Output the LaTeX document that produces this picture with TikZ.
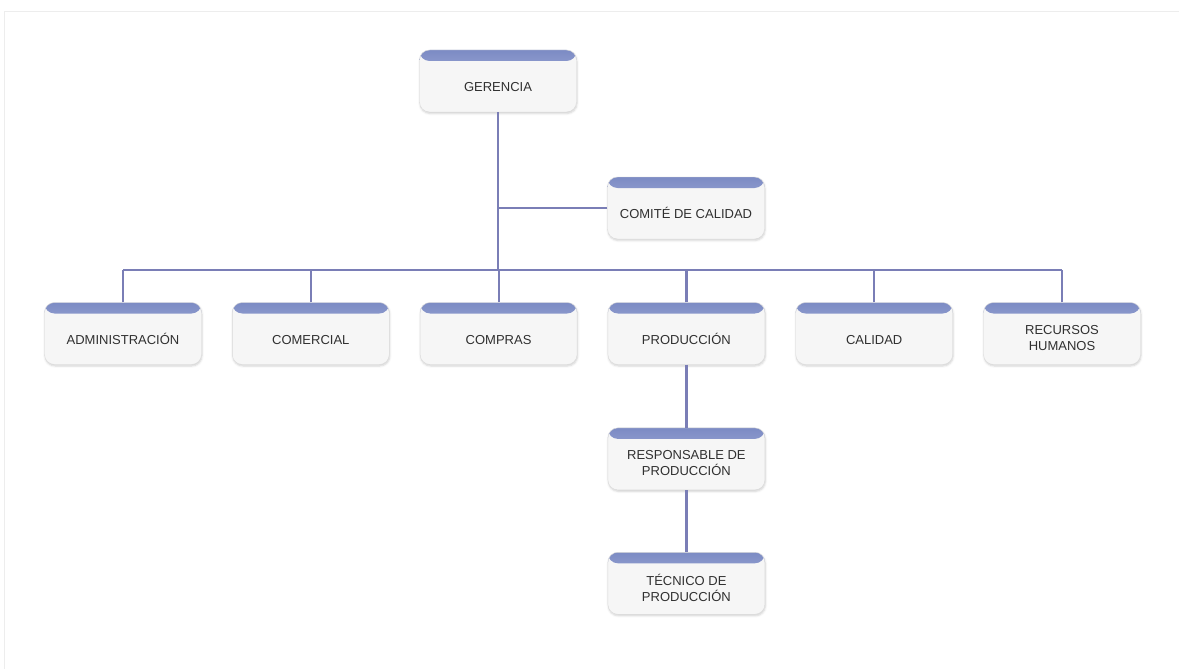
\documentclass[tikz,border=0pt]{standalone}
\usepackage{fontspec}
\setmainfont{Liberation Sans}
\usepackage{xcolor}
\usetikzlibrary{positioning,shadows.blur}

\definecolor{linkcol}{HTML}{7A7EB6}
\definecolor{bandtop}{HTML}{7C8BC4}
\definecolor{bandbot}{HTML}{C3CBEA}
\definecolor{boxfill}{HTML}{F6F6F6}
\definecolor{boxline}{HTML}{DADADA}
\definecolor{txtcol}{HTML}{303030}

\begin{document}
\begin{tikzpicture}[
    x=1pt, y=-1pt,
    node distance=30.4pt,
    unitbox/.style={
        draw=boxline,
        fill=boxfill,
        rounded corners=10pt,
        minimum width=157pt,
        minimum height=62pt,
        blur shadow={shadow xshift=0.5pt, shadow yshift=-1.5pt,
                     shadow opacity=18, shadow blur radius=2pt},
        path picture={
            \shade[top color=bandtop, bottom color=bandbot]
                (path picture bounding box.north west) rectangle
                ([yshift=-11pt]path picture bounding box.north east);
        }
    },
    unittext/.style={
        font=\fontsize{13}{16}\selectfont,
        text=txtcol,
        align=center,
        execute at begin node={\rule{0pt}{12.5pt}},
        execute at end node={\rule[-3.5pt]{0pt}{3.5pt}},
        yshift=-6pt
    },
    unit/.style={unitbox, label={[unittext]center:#1}},
    link/.style={draw=linkcol, line width=2.2pt}
]

% frame
\useasboundingbox (0,0) rectangle (1179,669);
\draw[black!7] (4,669) -- (4,11) -- (1179,11);

% Define units
\node[unit=GERENCIA] (ger) at (498,81) {};
\node[unit={COMITÉ DE CALIDAD}] (comite) at (686,208) {};

\node[unit=ADMINISTRACIÓN] (adm) at (123,333.5) {};
\node[unit=COMERCIAL, right=of adm] (com) {};
\node[unit=COMPRAS, right=of com] (cmp) {};
\node[unit=PRODUCCIÓN, right=of cmp] (prod) {};
\node[unit=CALIDAD, right=of prod] (cal) {};
\node[unit={RECURSOS\\HUMANOS}, right=of cal] (rrhh) {};

\node[unit={RESPONSABLE DE\\PRODUCCIÓN}, below=63pt of prod] (resp) {};
\node[unit={TÉCNICO DE\\PRODUCCIÓN}, below=62pt of resp] (tec) {};

% Define links
\coordinate (busL) at ([yshift=32pt]adm.north);
\coordinate (busR) at ([yshift=32pt]rrhh.north);

\draw[link] (ger.south) -- (ger.south |- busL);
\draw[link] (busL) -- (busR);
\foreach \n in {adm,com,cmp,prod,cal,rrhh}
    \draw[link] (\n.north) -- (\n.north |- busL);
\draw[link] (comite.west) -- (comite.west -| ger.south);
\draw[link] (prod) -- (resp);
\draw[link] (resp) -- (tec);

\end{tikzpicture}
\end{document}
